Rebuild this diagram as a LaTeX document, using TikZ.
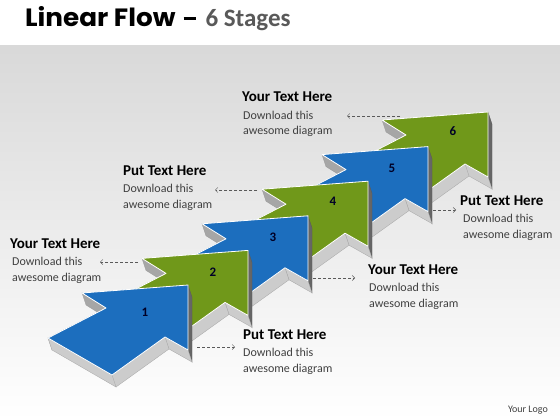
\documentclass[tikz,border=0pt]{standalone}
\usepackage{fontspec}
\setmainfont{Carlito}
\newfontfamily\titlefont{Poppins}
\usetikzlibrary{arrows.meta}
\definecolor{stageblue}{RGB}{28,110,190}
\definecolor{stagegreen}{RGB}{112,152,26}
\definecolor{titlegray}{RGB}{89,89,89}
\definecolor{textgray}{RGB}{64,64,64}
\tikzset{
	lightface/.style={fill=black!20,draw=black!35,line width=.3pt},
	darkface/.style={fill=black!60,draw=black!65,line width=.3pt},
	wedgeface/.style={fill=black!35,draw=black!40,line width=.3pt},
	topface/.style={draw=white,line width=.8pt,line join=round},
	stagenum/.style={font=\bfseries\fontsize{13}{15}\selectfont,text=black!85!blue},
	infohead/.style={anchor=base west,inner sep=0pt,font=\bfseries\fontsize{15}{18}\selectfont},
	infobody/.style={anchor=base west,inner sep=0pt,align=left,text=textgray,font=\fontsize{12}{16}\selectfont},
	pointer/.style={densely dashed,line width=.5pt,black!65,-{Straight Barb[length=2.5pt,width=5pt]}}
}
\begin{document}
\begin{tikzpicture}[x=1pt,y=-1pt]
	\useasboundingbox (0,0) rectangle (560,420);
	\fill[white] (0,0) rectangle (560,420);
	\shade[top color=black!15,bottom color=white] (0,46) rectangle (560,420);
	\node[anchor=base west,inner sep=0pt] (title) at (25,27)
		{\fontsize{25}{28}\selectfont\scalebox{1.05}[1]{\titlefont\bfseries Linear Flow}\hspace{8pt}\rule[7pt]{12pt}{3pt}\hspace{10pt}\textcolor{titlegray}{\bfseries 6 Stages}};
	% stages, back to front
	\foreach \k/\col/\nx/\ny in {5/stagegreen/-35/19,4/stageblue/-36/22,3/stagegreen/-35/20,2/stageblue/-35/21,1/stagegreen/-35/22,0/stageblue/-43/27}
	{
		\begin{scope}[shift={(188+60*\k,285-34.6*\k)}]
			\fill[lightface] (-82,23) -- (-140,53) -- (-136,65) -- (-78,35) -- cycle;
			\fill[wedgeface] (-106,8) -- (-82,23) -- (-78,35) -- (-102,20) -- cycle;
			\fill[darkface] (0,0) -- (0,65) -- (4,77) -- (4,12) -- cycle;
			\fill[lightface] (0,65) -- (-23,52) -- (-19,64) -- (4,77) -- cycle;
			\fill[lightface] (-23,52) -- (-76,90) -- (-72,102) -- (-19,64) -- cycle;
			\fill[lightface] (-76,90) -- (-140,53) -- (-136,65) -- (-72,102) -- cycle;
			\filldraw[fill=\col,topface] (0,0) -- (0,65) -- (-23,52) -- (-76,90) -- (-140,53) -- (-82,23) -- (-106,8) -- cycle;
			\pgfmathtruncatemacro\num{\k+1}
			\node[stagenum] (n\num) at (\nx,\ny) {\num};
		\end{scope}
	}
	\path
	(10,248) node[infohead] (h1) {Your Text Here}
	(12,281) node[infobody] (t1) {Download this\\awesome diagram}
	(123,175) node[infohead] (h2) {Put Text Here}
	(123,208) node[infobody] (t2) {Download this\\awesome diagram}
	(242,102) node[infohead] (h3) {Your Text Here}
	(243,135) node[infobody] (t3) {Download this\\awesome diagram}
	(243,339) node[infohead] (h4) {Put Text Here}
	(243,372) node[infobody] (t4) {Download this\\awesome diagram}
	(368,274) node[infohead] (h5) {Your Text Here}
	(369,307) node[infobody] (t5) {Download this\\awesome diagram}
	(460,205) node[infohead] (h6) {Put Text Here}
	(463,238) node[infobody] (t6) {Download this\\awesome diagram}
	(548,412) node[anchor=base east,inner sep=0pt,text=textgray,font=\fontsize{10}{12}\selectfont] (logo) {Your Logo}
	;
	% pointers from the stages to the texts
	\coordinate (s1) at (138,262); \coordinate (e1) at (100,262);
	\coordinate (s2) at (257,190); \coordinate (e2) at (215,190);
	\coordinate (s3) at (400,116); \coordinate (e3) at (347,116);
	\coordinate (s4) at (197,347); \coordinate (e4) at (235,347);
	\coordinate (s5) at (313,278); \coordinate (e5) at (355,278);
	\coordinate (s6) at (433,210); \coordinate (e6) at (456,210);
	\foreach \i in {1,...,6} \draw[pointer] (s\i) -- (e\i);
\end{tikzpicture}
\end{document}
